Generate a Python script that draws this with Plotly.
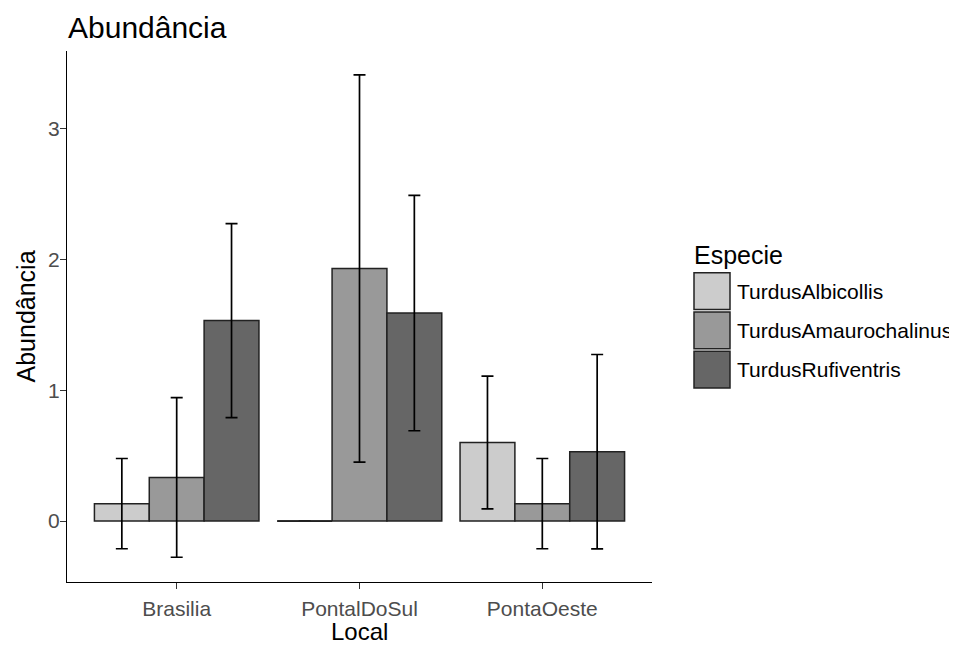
import plotly.graph_objects as go

# ---- data ----
locais = ["Brasilia", "PontalDoSul", "PontaOeste"]
especies = ["TurdusAlbicollis", "TurdusAmaurochalinus", "TurdusRufiventris"]
abund_albicollis = [0.133, 0.0, 0.60]
abund_amaurochalinus = [0.333, 1.93, 0.133]
abund_rufiventris = [1.532, 1.59, 0.53]
se_albicollis = [0.345, 0.0, 0.507]
se_amaurochalinus = [0.61, 1.48, 0.345]
se_rufiventris = [0.742, 0.90, 0.743]
y_ticks = [0, 1, 2, 3]
cores = ["#cccccc", "#999999", "#666666"]

medias = [abund_albicollis, abund_amaurochalinus, abund_rufiventris]
erros = [se_albicollis, se_amaurochalinus, se_rufiventris]

# page body has an 8px margin; compensate so the plot lands where intended
OFF = 8
W, H = 957 - OFF, 646 - OFF
L, R, T, B = 67 - OFF, 305, 51 - OFF, 64
PW, PH = W - L - R, H - T - B
FONT = "Liberation Sans, Arial, sans-serif"


def px_x(p):
    # p: pixel in final screenshot
    return (p - OFF - L) / PW


def px_y(p):
    return (H - B - (p - OFF)) / PH


bar_w = 0.3
fig = go.Figure()
for j, (nome, vals, se, cor) in enumerate(zip(especies, medias, erros, cores)):
    xs = [i + 1 + (j - 1) * bar_w for i in range(len(locais))]
    fig.add_trace(go.Bar(
        x=xs, y=vals, width=bar_w, name=nome,
        marker=dict(color=cor, line=dict(color="#222222", width=1.5)),
        error_y=dict(type="data", array=se, visible=True, color="black",
                     thickness=1.7, width=6),
        showlegend=False,
    ))
    # outline for zero-height bars (plotly hides them)
    for x, v in zip(xs, vals):
        if v == 0:
            fig.add_trace(go.Scatter(
                x=[x - bar_w / 2, x + bar_w / 2], y=[v, v], mode="lines",
                line=dict(color="#222222", width=1.7), showlegend=False,
                hoverinfo="skip"))

fig.update_layout(
    width=W, height=H, margin=dict(l=L, r=R, t=T, b=B, autoexpand=False),
    plot_bgcolor="white", paper_bgcolor="white",
    barmode="overlay",
    font=dict(family=FONT, color="black"),
    xaxis=dict(range=[0.4, 3.6], tickvals=[1, 2, 3], ticktext=locais,
               showline=True, linecolor="black", linewidth=1.3,
               ticks="outside", ticklen=6, tickwidth=1.3, tickcolor="#333333",
               showgrid=False, zeroline=False, ticklabelstandoff=2,
               tickfont=dict(size=21, color="#4d4d4d")),
    yaxis=dict(range=[-0.466, 3.593], tickvals=y_ticks,
               showline=True, linecolor="black", linewidth=1.3,
               ticks="outside", ticklen=6, tickwidth=1.3, tickcolor="#333333",
               showgrid=False, zeroline=False, ticklabelstandoff=-4,
               tickfont=dict(size=21, color="#4d4d4d")),
)

annotations = [
    dict(text="Abundância", x=px_x(66), y=px_y(28), xref="paper", yref="paper",
         xanchor="left", yanchor="middle", showarrow=False,
         font=dict(size=30, color="black", family=FONT)),
    dict(text="Local", x=0.5, y=px_y(631), xref="paper", yref="paper",
         xanchor="center", yanchor="middle", showarrow=False,
         font=dict(size=24, color="black", family=FONT)),
    dict(text="Abundância", x=px_x(25), y=0.5, xref="paper", yref="paper",
         xanchor="center", yanchor="middle", showarrow=False, textangle=-90,
         font=dict(size=25, color="black", family=FONT)),
    dict(text="Especie", x=px_x(692), y=px_y(255), xref="paper", yref="paper",
         xanchor="left", yanchor="middle", showarrow=False,
         font=dict(size=25, color="black", family=FONT)),
]
shapes = []
key_top = 272.7
key_h = 36.8
key_gap = 2.5
for j, (nome, cor) in enumerate(zip(especies, cores)):
    y0 = key_top + j * (key_h + key_gap)
    shapes.append(dict(type="rect", xref="paper", yref="paper",
                       x0=px_x(694), x1=px_x(730), y0=px_y(y0), y1=px_y(y0 + key_h),
                       fillcolor=cor, line=dict(color="#222222", width=1.5)))
    annotations.append(dict(text=nome, x=px_x(735), y=px_y(y0 + key_h / 2),
                            xref="paper", yref="paper", xanchor="left",
                            yanchor="middle", showarrow=False,
                            font=dict(size=21, color="black", family=FONT)))

fig.update_layout(annotations=annotations, shapes=shapes)
fig.write_html("out.html")
